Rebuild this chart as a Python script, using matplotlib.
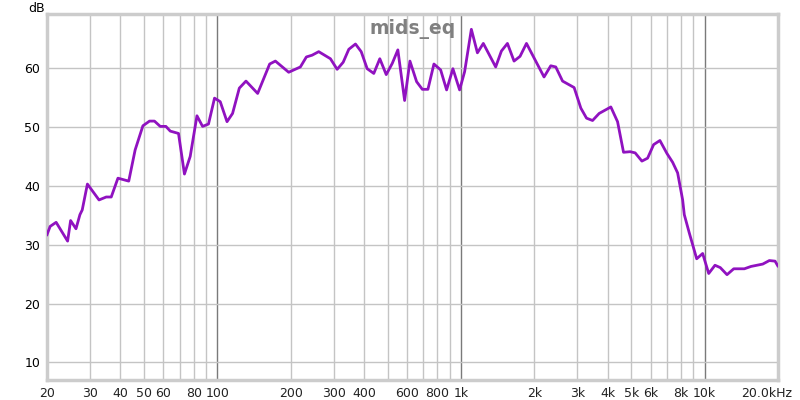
import matplotlib
matplotlib.use("Agg")
import matplotlib.pyplot as plt
import matplotlib.transforms as mtransforms
from matplotlib.ticker import FixedLocator, NullLocator

# frequency response (Hz, dB)
freq_hz = [20, 20.6, 21.8, 24.3, 25.0, 26.3, 27.3, 27.9, 29.3, 32.7, 35.0, 36.7,
           39.1, 43.3, 46.0, 49.5, 52.7, 55.2, 58.3, 61.5, 64.1, 69.3, 73.3, 77.4,
           82.5, 87.0, 92.0, 97.4, 102.8, 109.6, 115.5, 123.1, 131.1, 146.4, 164.0,
           173.1, 196.3, 219.2, 232.0, 244.9, 260.7, 291.2, 310.3, 328.5, 346.4,
           369.0, 389.5, 412.2, 438.7, 464.4, 493.4, 522.3, 550.7, 587.0, 617.3,
           657.5, 694.0, 731.7, 774.4, 825.1, 873.0, 926.5, 987.1, 1035, 1103,
           1168, 1235, 1388, 1465, 1551, 1651, 1747, 1857, 1934, 2192, 2336, 2449,
           2611, 2913, 3104, 3275, 3467, 3690, 4121, 4391, 4646, 4946, 5186, 5527,
           5833, 6174, 6552, 7002, 7389, 7746, 8123, 8250, 8648, 9275, 9814, 10390,
           11026, 11593, 12352, 13164, 14552, 15504, 17314, 18430, 19449, 19959]
level_db = [31.7, 33.1, 33.8, 30.6, 34.1, 32.7, 35.1, 35.9, 40.3, 37.6, 38.1, 38.1,
            41.3, 40.8, 46.1, 50.2, 51.0, 51.0, 50.1, 50.1, 49.3, 48.9, 42.0, 45.0,
            51.9, 50.1, 50.5, 54.9, 54.3, 50.9, 52.3, 56.6, 57.8, 55.7, 60.7,
            61.2, 59.3, 60.2, 61.9, 62.2, 62.8, 61.6, 59.8, 61.0, 63.2,
            64.1, 62.8, 59.9, 59.1, 61.6, 58.9, 60.8, 63.1, 54.5, 61.2,
            57.7, 56.4, 56.4, 60.7, 59.7, 56.3, 59.9, 56.3, 59.4, 66.6,
            62.6, 64.2, 60.2, 62.9, 64.2, 61.2, 62.0, 64.2, 62.8, 58.5, 60.4, 60.2,
            57.8, 56.7, 53.2, 51.5, 51.1, 52.3, 53.4, 50.9, 45.7, 45.8, 45.6, 44.2,
            44.7, 47.0, 47.7, 45.5, 44.0, 42.2, 37.6, 35.1, 32.0, 27.6, 28.5, 25.1,
            26.5, 26.1, 24.9, 25.9, 25.9, 26.3, 26.7, 27.3, 27.2, 26.4]

x_ticks = [20, 30, 40, 50, 60, 80, 100, 200, 300, 400, 600, 800, 1000,
           2000, 3000, 4000, 5000, 6000, 8000, 10000, 20000]
x_labels = ["20", "30", "40", "50", "60", "80", "100", "200", "300", "400", "600",
            "800", "1k", "2k", "3k", "4k", "5k", "6k", "8k", "10k", "20.0kHz"]
y_ticks = [10, 20, 30, 40, 50, 60]

minor_grid = [20, 30, 40, 50, 60, 70, 80, 90, 200, 300, 400, 500, 600, 700, 800, 900,
              2000, 3000, 4000, 5000, 6000, 7000, 8000, 9000]
decades = [100, 1000, 10000]

fig = plt.figure(figsize=(8, 4), dpi=100)
ax = fig.add_axes([0.05875, 0.05, 0.91375, 0.915])

ax.set_xscale("log")
ax.set_xlim(20, 20000)
ax.set_ylim(7, 69.2)

for f in minor_grid:
    ax.axvline(f, color="#c4c4c4", lw=1, zorder=1)
for f in decades:
    ax.axvline(f, color="#7a7a7a", lw=1, zorder=1)
for v in y_ticks:
    ax.axhline(v, color="#c4c4c4", lw=1, zorder=1)

ax.plot(freq_hz, level_db, color="#9012c0", lw=2, zorder=3, solid_joinstyle="round")

ax.xaxis.set_major_locator(FixedLocator(x_ticks))
ax.xaxis.set_minor_locator(NullLocator())
ax.set_xticklabels(x_labels)
ax.set_yticks(y_ticks)
ax.tick_params(length=0, labelsize=9, colors="#000000", pad=5)
for lab in ax.get_xticklabels():
    lab.set_color("#222222")
# last label sits a bit left so it stays inside the figure
last = ax.xaxis.get_majorticklabels()[-1]
last.set_transform(last.get_transform() +
                   mtransforms.ScaledTranslation(-8 / 72, 0, fig.dpi_scale_trans))

for s in ax.spines.values():
    s.set_color("#cccccc")
    s.set_linewidth(2.5)

ax.text(0.5, 0.985, "mids_eq", transform=ax.transAxes, ha="center", va="top",
        fontsize=13.5, fontweight="bold", color="#808080")
fig.text(0.035, 0.995, "dB", ha="left", va="top", fontsize=9)

fig.savefig("out.png", dpi=100, facecolor="white")
